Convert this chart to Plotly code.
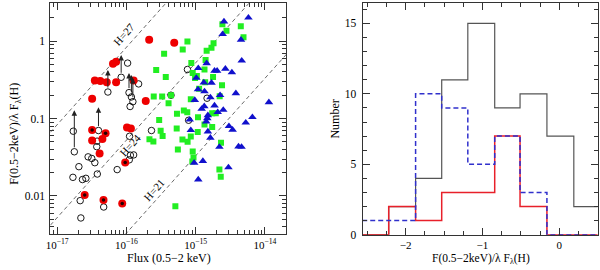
import numpy as np
import plotly.graph_objects as go

# ---------------- Left panel data ----------------
red_flux = [2.13e-16, 4.9e-16, 6.4e-17, 7.1e-17, 3.5e-17, 4.2e-17, 5.2e-17, 7.1e-17, 1.27e-16,
            3.2e-17, 1.9e-16, 3.2e-17, 4.5e-17, 4.1e-17, 1.02e-16, 1.16e-16]
red_ratio = [1.04, 0.95, 0.51, 0.54, 0.31, 0.306, 0.295, 0.295, 0.31,
             0.18, 0.168, 0.052, 0.0546, 0.0353, 0.0766, 0.0743]

redcore_flux = [3.2e-17, 5.0e-17, 9.6e-17, 2.5e-17, 4.67e-17, 8.7e-17]
redcore_ratio = [0.071, 0.0647, 0.027, 0.0103, 0.0089, 0.008]

open_flux = [1.04e-16, 8.4e-17, 5.4e-17, 1.09e-16, 1.18e-16, 1.24e-16, 1.13e-16, 1.5e-16,
             1.71e-17, 1.77e-17, 3.95e-17, 3.77e-17, 3.73e-17, 1.11e-16, 2.3e-16, 2.8e-17,
             3.16e-17, 3.5e-17, 2.06e-17, 1.14e-16, 1.27e-16, 1.1e-16, 7.35e-17, 3.8e-17,
             1.69e-17, 2.32e-17, 2.6e-17, 2.15e-17, 4.7e-17, 2.2e-17, 7.6e-16, 4.4e-16,
             1.46e-15, 7.9e-16]
open_ratio = [0.52, 0.341, 0.22, 0.216, 0.19, 0.165, 0.143, 0.28,
              0.0686, 0.0372, 0.07, 0.051, 0.0433, 0.059, 0.07, 0.032,
              0.0305, 0.0269, 0.0239, 0.0336, 0.0339, 0.0293, 0.0219, 0.0192,
              0.0174, 0.0163, 0.0169, 0.0087, 0.0072, 0.0052, 0.43, 0.2,
              0.183, 0.095]

arrow_flux = [8.4e-17, 5.4e-17, 1.09e-16, 1.18e-16, 1.24e-16, 1.77e-17, 3.95e-17]
arrow_from = [0.341, 0.22, 0.216, 0.19, 0.165, 0.0372, 0.07]
arrow_to = [0.66, 0.425, 0.386, 0.365, 0.334, 0.128, 0.14]

green_flux = [3.5e-16, 7.6e-16, 6.5e-16, 2.43e-15, 2.78e-15, 4.48e-15, 4.9e-15, 1.81e-15, 1.69e-15,
              1.44e-15, 1.39e-15, 8.65e-16, 2.69e-16, 1.34e-15, 9.06e-16, 1.04e-15, 3.7e-16,
              1.78e-15, 1.37e-15, 9.8e-16, 2.4e-15, 1.12e-15, 2.48e-16, 3.28e-16, 4.41e-16,
              2.22e-15, 8.5e-16, 4.06e-16, 6.74e-16, 5.37e-16, 7.56e-16, 1.73e-15, 1.95e-15,
              1.08e-15, 2.97e-16, 1.34e-15, 1.73e-15, 5.32e-16, 3.12e-16, 3.33e-16, 2.15e-16,
              2.45e-16, 6.44e-16, 7.64e-16, 8.5e-16, 1.07e-15, 5.53e-16, 2.32e-15, 9.06e-16,
              9.3e-16, 8.94e-16, 2.2e-15, 2.3e-15, 5.09e-16]
green_ratio = [0.685, 0.99, 0.78, 1.65, 1.36, 1.56, 1.12, 0.94, 0.82,
               0.75, 0.57, 0.52, 0.425, 0.43, 0.386, 0.354, 0.344,
               0.344, 0.295, 0.334, 0.269, 0.243, 0.192, 0.192, 0.2,
               0.194, 0.178, 0.157, 0.127, 0.115, 0.121, 0.117, 0.117,
               0.104, 0.096, 0.0835, 0.0777, 0.0741, 0.0695, 0.0596, 0.054,
               0.0505, 0.0538, 0.0502, 0.0587, 0.067, 0.0398, 0.0488, 0.0374,
               0.0313, 0.0278, 0.022, 0.0177, 0.00737]

blue_flux = [5.77e-15, 2.56e-15, 2.45e-15, 4.51e-15, 4.62e-15, 1.44e-15, 1.09e-15, 2.68e-15,
             1.87e-15, 2.04e-15, 3.33e-15, 1.02e-15, 1.31e-15, 1.69e-15, 1.08e-15, 1.34e-15,
             3.8e-15, 2.25e-15, 1.63e-15, 9.7e-16, 1.14e-14, 1.87e-15, 1.33e-15, 1.22e-15,
             2.5e-15, 2.08e-15, 6.59e-15, 5.28e-15, 1.5e-15, 8.2e-16, 3.02e-15, 3.41e-15,
             1.47e-15, 1.42e-15, 8.5e-16, 1.5e-15, 1.63e-15, 2.2e-15, 4.15e-15, 4.59e-15,
             9.5e-16, 1.27e-15, 2.97e-15, 1.09e-15]
blue_ratio = [2.01, 1.79, 1.23, 1.04, 0.559, 0.517, 0.447, 0.438,
              0.413, 0.413, 0.394, 0.334, 0.292, 0.289, 0.238, 0.224,
              0.212, 0.2, 0.187, 0.173, 0.162, 0.147, 0.144, 0.133,
              0.129, 0.121, 0.104, 0.0885, 0.11, 0.0966, 0.0797, 0.0716,
              0.1006, 0.0911, 0.0706, 0.068, 0.0564, 0.043, 0.0434, 0.043,
              0.0268, 0.0282, 0.0234, 0.0163]

H_mags = [21, 24, 27]
H_labels = ["H=21", "H=24", "H=27"]
H_zero_point = 10 ** -5.12          # lambda F_lambda(H) at H=0
H_label_flux = [2.52e-16, 1.13e-16, 9.3e-17]
H_label_ratio = [0.0118, 0.046, 1.24]

# ---------------- Right panel data ----------------
bin_edges = [-2.565, -2.22, -1.87, -1.53, -1.19, -0.84, -0.51, -0.16, 0.19, 0.535]
hist_all = [0, 2, 4, 11, 15, 9, 10, 7, 2]
hist_red = [0, 2, 1, 3, 3, 7, 2, 0, 0]
hist_blue = [1, 1, 10, 9, 5, 7, 3, 0, 0]

FONT = "Liberation Serif"
AX = "#333333"

fig = go.Figure()

# H lines
xl = np.array([10 ** -17.3, 10 ** -13.5])
for H in H_mags:
    fig.add_trace(go.Scatter(x=xl, y=xl / (H_zero_point * 10 ** (-0.4 * H)), mode="lines",
                             line=dict(color="#444444", width=0.8, dash="4px,3px"),
                             xaxis="x", yaxis="y", hoverinfo="skip", showlegend=False))

fig.add_trace(go.Scatter(x=open_flux, y=open_ratio, mode="markers", xaxis="x", yaxis="y",
                         marker=dict(symbol="circle-open", size=6.5, color="black", line=dict(width=0.9)),
                         showlegend=False))
fig.add_trace(go.Scatter(x=green_flux, y=green_ratio, mode="markers", xaxis="x", yaxis="y",
                         marker=dict(symbol="square", size=6, color="#22ee22", line=dict(width=0)),
                         showlegend=False))
fig.add_trace(go.Scatter(x=blue_flux, y=blue_ratio, mode="markers", xaxis="x", yaxis="y",
                         marker=dict(symbol="triangle-up", size=7.5, color="#1010cc", line=dict(width=0)),
                         showlegend=False))
fig.add_trace(go.Scatter(x=red_flux + redcore_flux, y=red_ratio + redcore_ratio, mode="markers",
                         xaxis="x", yaxis="y",
                         marker=dict(symbol="circle", size=8, color="#ee0000", line=dict(width=0)),
                         showlegend=False))
fig.add_trace(go.Scatter(x=redcore_flux, y=redcore_ratio, mode="markers", xaxis="x", yaxis="y",
                         marker=dict(symbol="circle", size=3.5, color="#220000", line=dict(width=0)),
                         showlegend=False))

annotations = []
for fx, y0, y1 in zip(arrow_flux, arrow_from, arrow_to):
    annotations.append(dict(x=np.log10(fx), y=np.log10(y1), ax=np.log10(fx), ay=np.log10(y0),
                            xref="x", yref="y", axref="x", ayref="y", text="", showarrow=True,
                            arrowhead=2, arrowsize=1.1, arrowwidth=1, arrowcolor="#222222",
                            startstandoff=3, standoff=0))
for lab, fx, fy in zip(H_labels, H_label_flux, H_label_ratio):
    annotations.append(dict(x=np.log10(fx), y=np.log10(fy), xref="x", yref="y", text=lab,
                            xanchor="center", yanchor="middle",
                            showarrow=False, textangle=-48.5, font=dict(family=FONT, size=11, color="black")))

# histograms
def step_xy(counts):
    return bin_edges, list(counts) + [counts[-1]]

xs, ys = step_xy(hist_all)
fig.add_trace(go.Scatter(x=xs, y=ys, mode="lines", line=dict(shape="hv", color="#555555", width=1.2),
                         xaxis="x2", yaxis="y2", showlegend=False))
xs, ys = step_xy(hist_red)
fig.add_trace(go.Scatter(x=xs, y=ys, mode="lines", line=dict(shape="hv", color="#e8202a", width=1.5),
                         xaxis="x2", yaxis="y2", showlegend=False))
xs, ys = step_xy(hist_blue)
fig.add_trace(go.Scatter(x=xs, y=ys, mode="lines", line=dict(shape="hv", color="#3030cc", width=1.5, dash="5px,3px"),
                         xaxis="x2", yaxis="y2", showlegend=False))

# axis titles
ytitle = "F(0.5−2keV)/λ F<sub>λ</sub>(H)"
tfont = dict(family=FONT, size=12, color="black")
annotations += [
    dict(x=10 / 600, y=0.493, xref="paper", yref="paper", text=ytitle, textangle=-90, showarrow=False,
         xanchor="center", yanchor="middle", font=tfont),
    dict(x=165 / 600, y=1 - 263.5 / 270, xref="paper", yref="paper", text="Flux (0.5−2 keV)", showarrow=False,
         xanchor="center", yanchor="middle", font=tfont),
    dict(x=480 / 600, y=1 - 265 / 270, xref="paper", yref="paper", text=ytitle, showarrow=False,
         xanchor="center", yanchor="middle", font=dict(family=FONT, size=11.5, color="black")),
    dict(x=333 / 600, y=0.548, xref="paper", yref="paper", text="Number", textangle=-90, showarrow=False,
         xanchor="center", yanchor="middle", font=tfont),
]

minor_x = [k * 10.0 ** e for e in range(-18, -13) for k in range(2, 10)]
minor_y = [k * 10.0 ** e for e in range(-3, 1) for k in range(2, 10)]

common = dict(showline=True, linecolor=AX, linewidth=1, mirror="ticks", ticks="inside",
              tickcolor=AX, showgrid=False, zeroline=False)
tick_font = dict(family=FONT, size=11.5, color="black")

fig.update_layout(
    width=600, height=270, margin=dict(l=0, r=0, t=0, b=0),
    paper_bgcolor="white", plot_bgcolor="white",
    annotations=annotations,
    xaxis=dict(type="log", range=[-17.1, -13.69], domain=[0.076, 0.473], anchor="y",
               tickvals=[1e-17, 1e-16, 1e-15, 1e-14],
               ticktext=["10<sup>−17</sup>", "10<sup>−16</sup>", "10<sup>−15</sup>", "10<sup>−14</sup>"],
               ticklen=7, ticklabelstandoff=1, tickfont=dict(family=FONT, size=11, color="black"),
               minor=dict(tickvals=minor_x, ticks="inside", ticklen=4, tickcolor=AX), **common),
    yaxis=dict(type="log", range=[-2.49, 0.49], domain=[0.114, 0.988], anchor="x",
               tickvals=[0.01, 0.1, 1], ticktext=["0.01", "0.1", "1"],
               ticklen=7, ticklabelstandoff=2, tickfont=tick_font,
               minor=dict(tickvals=minor_y, ticks="inside", ticklen=4, tickcolor=AX), **common),
    xaxis2=dict(range=[-2.56, 0.5], domain=[0.601, 0.996], anchor="y2",
                tickvals=[-2, -1, 0], ticktext=["−2", "−1", "0"], ticklen=7, ticklabelstandoff=0,
                tickfont=dict(family=FONT, size=11, color="black"),
                minor=dict(dtick=0.25, ticks="inside", ticklen=4, tickcolor=AX), **common),
    yaxis2=dict(range=[0, 16.46], domain=[0.111, 0.989], anchor="x2",
                tickvals=[0, 5, 10, 15], ticktext=["0", "5", "10", "15"], ticklen=7, ticklabelstandoff=3,
                tickfont=tick_font,
                minor=dict(dtick=1, ticks="inside", ticklen=4, tickcolor=AX), **common),
)

fig.write_html("out.html", config={"displayModeBar": False},
               post_script="document.body.style.margin='0px';")
